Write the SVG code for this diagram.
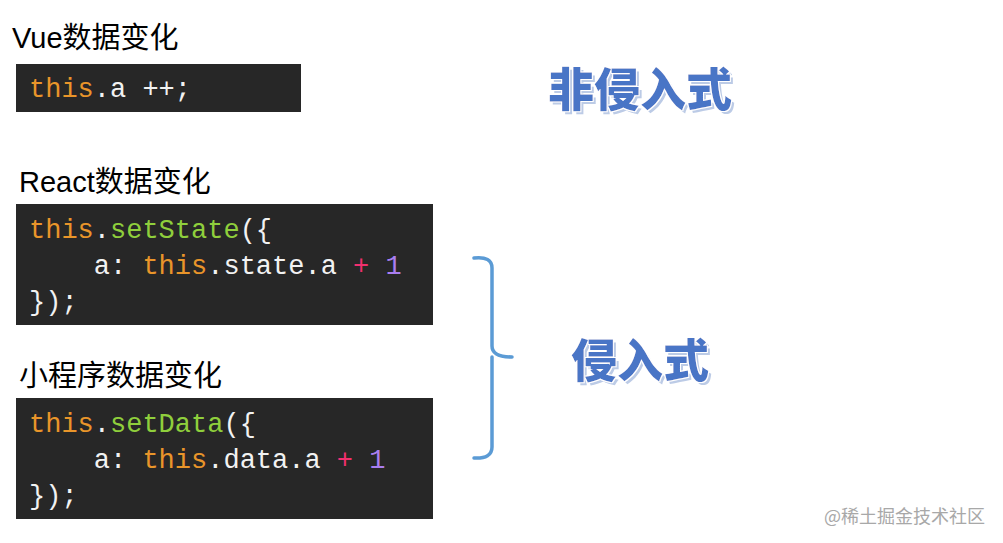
<svg xmlns="http://www.w3.org/2000/svg" width="1003" height="543" viewBox="0 0 1003 543">
<defs>
<filter id="wordart" x="-10%" y="-20%" width="125%" height="150%">
<feMorphology in="SourceAlpha" operator="dilate" radius="1.2" result="outline"/>
<feFlood flood-color="#ffffff" result="white"/>
<feComposite in="white" in2="outline" operator="in" result="whiteOutline"/>
<feOffset in="SourceAlpha" dx="3" dy="3" result="off"/>
<feFlood flood-color="#bccbe6" result="sc"/>
<feComposite in="sc" in2="off" operator="in" result="shadow"/>
<feMerge>
<feMergeNode in="shadow"/>
<feMergeNode in="whiteOutline"/>
<feMergeNode in="SourceGraphic"/>
</feMerge>
</filter>
</defs>
<style>
.title{font-family:"Liberation Sans","Noto Sans CJK SC",sans-serif;font-size:29px;fill:#000}
.box{fill:#272727}
.code{font-family:"Liberation Mono","DejaVu Sans Mono",monospace;font-size:27px;fill:#f2f2f2;white-space:pre}
.k{fill:#e9952a}
.f{fill:#8fcf3c}
.op{fill:#f0306e}
.n{fill:#a97ef0}
.big{font-family:"Noto Sans CJK SC",sans-serif;font-weight:900;font-size:46px;text-anchor:middle;fill:#4a75c6;filter:url(#wordart)}
.wm{font-family:"Noto Sans CJK SC",sans-serif;font-size:18px;fill:#a8a8a8}
</style>
<rect width="1003" height="543" fill="#fff"/>
<g id="vue">
<text class="title" x="12" y="48">Vue数据变化</text>
<rect class="box" x="16" y="64" width="285" height="48"/>
<text class="code" x="29" y="97"><tspan class="k">this</tspan>.a ++;</text>
</g>
<g id="react">
<text class="title" x="19" y="192">React数据变化</text>
<rect class="box" x="16" y="204" width="417" height="121"/>
<text class="code" x="29" y="238"><tspan class="k">this</tspan>.<tspan class="f">setState</tspan>({</text>
<text class="code" x="29" y="274">    a: <tspan class="k">this</tspan>.state.a <tspan class="op">+</tspan> <tspan class="n">1</tspan></text>
<text class="code" x="29" y="310">});</text>
</g>
<g id="miniprogram">
<text class="title" x="19" y="386">小程序数据变化</text>
<rect class="box" x="16" y="398" width="417" height="121"/>
<text class="code" x="29" y="432"><tspan class="k">this</tspan>.<tspan class="f">setData</tspan>({</text>
<text class="code" x="29" y="468">    a: <tspan class="k">this</tspan>.data.a <tspan class="op">+</tspan> <tspan class="n">1</tspan></text>
<text class="code" x="29" y="504">});</text>
</g>
<g id="non-invasive">
<text class="big" x="640" y="106">非侵入式</text>
</g>
<g id="invasive">
<text class="big" x="640" y="377">侵入式</text>
</g>
<g id="connectors">
<path d="M474 258 Q492 256 492 268 L492 346 Q492 357 512 357 M492 357 Q492 357 492 368 L492 447 Q492 459 474 458" fill="none" stroke="#5b9bd5" stroke-width="3.5" stroke-linecap="round"/>
</g>
<text class="wm" x="824" y="523">@稀土掘金技术社区</text>
</svg>
